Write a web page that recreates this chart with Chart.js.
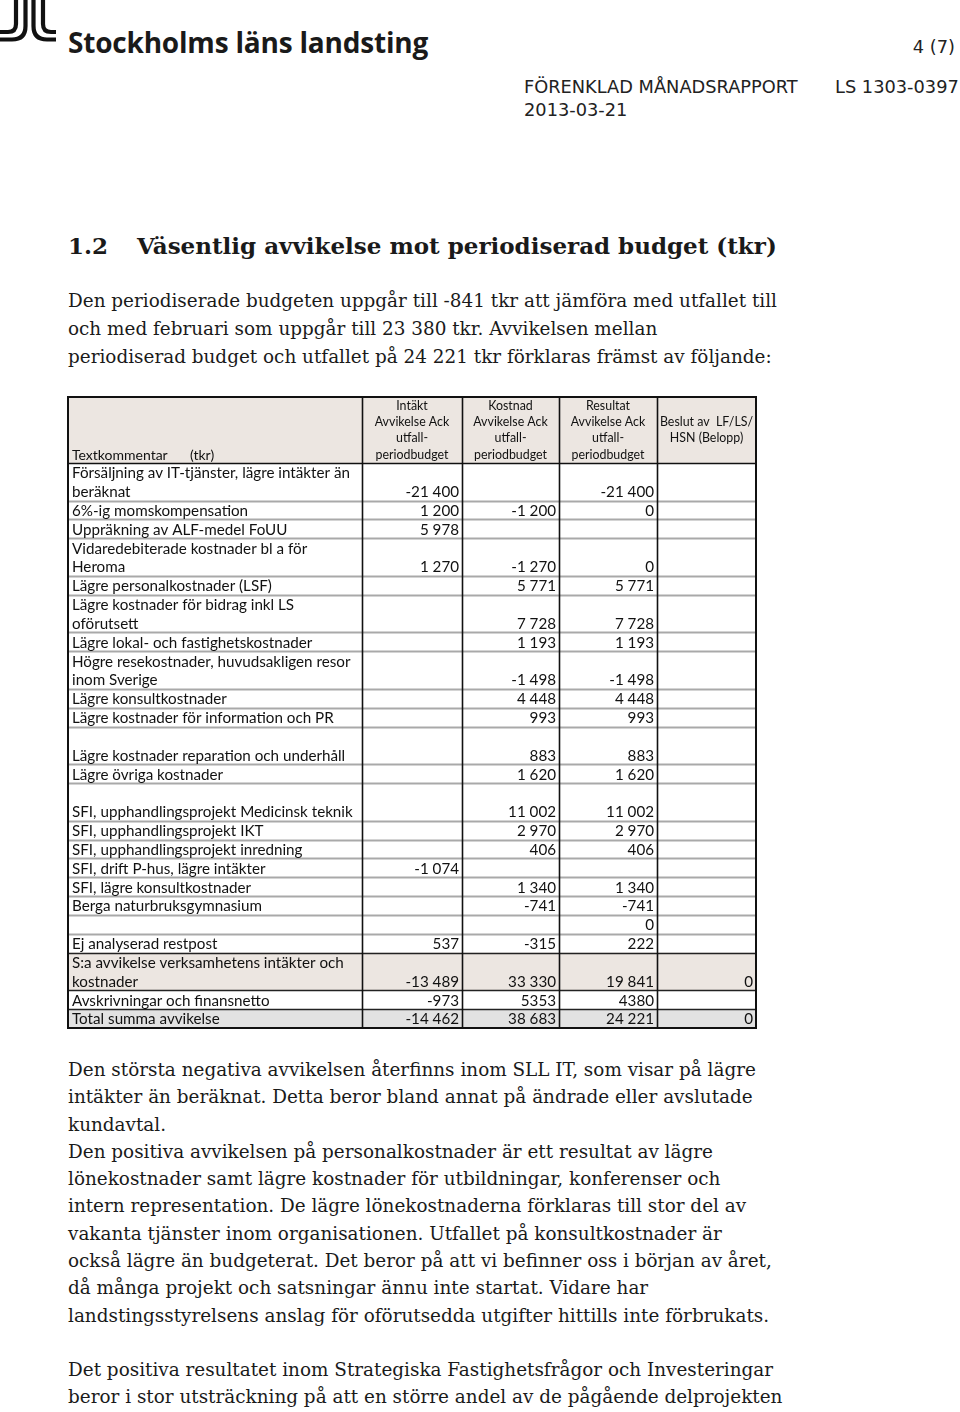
<!DOCTYPE html>
<html lang="sv">
<head>
<meta charset="utf-8">
<title>Väsentlig avvikelse mot periodiserad budget</title>
<script src="https://cdn.jsdelivr.net/npm/chart.js@4.4.0/dist/chart.umd.min.js"></script>
<style>
  html, body { margin: 0; padding: 0; background: #fff; }
  body { width: 960px; height: 1412px; position: relative; overflow: hidden; color: #111; }
  .abs { position: absolute; white-space: nowrap; }
  .logo { left: 68px; top: 23px; font-family: "Open Sans", sans-serif; font-weight: 700; font-size: 28px; line-height: 38px; color: #1a1a1a; letter-spacing: -0.2px; }
  .hdr { font-family: "DejaVu Sans", Verdana, sans-serif; font-size: 17.8px; line-height: 22px; color: #222; }
  .serif { font-family: "DejaVu Serif", Georgia, serif; font-size: 18.4px; color: #1a1a1a; }
  .title { left: 68px; top: 229px; font-weight: 700; font-size: 23px; line-height: 34px; }
  .p1 { left: 68px; top: 287px; line-height: 28px; }
  .p2 { left: 68px; top: 1056px; line-height: 27.3px; }
  .p3 { left: 68px; top: 1356px; line-height: 27.3px; }
  #tbl { position: absolute; left: 52px; top: 382px; }
</style>
</head>
<body>

<svg class="abs" style="left:0;top:0" width="62" height="50" viewBox="0 0 62 50">
  <g fill="none" stroke="#111" stroke-width="4.2">
    <path d="M16 0 V24 Q16 32 8 32 H0"/>
    <path d="M25.5 0 V26 Q25.5 39.5 12 39.5 H0"/>
    <path d="M33.5 0 V26 Q33.5 39.5 47 39.5 H56"/>
    <path d="M43 0 V24 Q43 32 51 32 H56"/>
  </g>
</svg>
<div class="abs logo">Stockholms läns landsting</div>

<div class="abs hdr" style="right:5px; top:36px;">4 (7)</div>
<div class="abs hdr" style="left:524px; top:76px;">FÖRENKLAD MÅNADSRAPPORT</div>
<div class="abs hdr" style="left:835px; top:76px;">LS 1303-0397</div>
<div class="abs hdr" style="left:524px; top:99px;">2013-03-21</div>

<div class="abs serif title">1.2<span style="position:absolute; left:69px;">Väsentlig avvikelse mot periodiserad budget (tkr)</span></div>

<div class="abs serif p1">Den periodiserade budgeten uppgår till -841 tkr att jämföra med utfallet till<br>och med februari som uppgår till 23 380 tkr. Avvikelsen mellan<br>periodiserad budget och utfallet på 24 221 tkr förklaras främst av följande:</div>

<canvas id="tbl" width="720" height="660"></canvas>

<div class="abs serif p2">Den största negativa avvikelsen återfinns inom SLL IT, som visar på lägre<br>intäkter än beräknat. Detta beror bland annat på ändrade eller avslutade<br>kundavtal.<br>Den positiva avvikelsen på personalkostnader är ett resultat av lägre<br>lönekostnader samt lägre kostnader för utbildningar, konferenser och<br>intern representation. De lägre lönekostnaderna förklaras till stor del av<br>vakanta tjänster inom organisationen. Utfallet på konsultkostnader är<br>också lägre än budgeterat. Det beror på att vi befinner oss i början av året,<br>då många projekt och satsningar ännu inte startat. Vidare har<br>landstingsstyrelsens anslag för oförutsedda utgifter hittills inte förbrukats.</div>
<div class="abs serif p3">Det positiva resultatet inom Strategiska Fastighetsfrågor och Investeringar<br>beror i stor utsträckning på att en större andel av de pågående delprojekten</div>

<script>
// rader (textkommentar), en array per rad med dess textrader
var rowLabels = [
  ['Försäljning av IT-tjänster, lägre intäkter än', 'beräknat'],
  ['6%-ig momskompensation'],
  ['Uppräkning av ALF-medel FoUU'],
  ['Vidaredebiterade kostnader bl a för', 'Heroma'],
  ['Lägre personalkostnader (LSF)'],
  ['Lägre kostnader för bidrag inkl LS', 'oförutsett'],
  ['Lägre lokal- och fastighetskostnader'],
  ['Högre resekostnader, huvudsakligen resor', 'inom Sverige'],
  ['Lägre konsultkostnader'],
  ['Lägre kostnader för information och PR'],
  ['', 'Lägre kostnader reparation och underhåll'],
  ['Lägre övriga kostnader'],
  ['', 'SFI, upphandlingsprojekt Medicinsk teknik'],
  ['SFI, upphandlingsprojekt IKT'],
  ['SFI, upphandlingsprojekt inredning'],
  ['SFI, drift P-hus, lägre intäkter'],
  ['SFI, lägre konsultkostnader'],
  ['Berga naturbruksgymnasium'],
  [''],
  ['Ej analyserad restpost'],
  ['S:a avvikelse verksamhetens intäkter och', 'kostnader'],
  ['Avskrivningar och finansnetto'],
  ['Total summa avvikelse']
];

// Avvikelse ack utfall - periodbudget (tkr)
var intakt   = [-21400, 1200, 5978, 1270, null, null, null, null, null, null, null, null, null, null, null, -1074, null, null, null, 537, -13489, -973, -14462];
var kostnad  = [null, -1200, null, -1270, 5771, 7728, 1193, -1498, 4448, 993, 883, 1620, 11002, 2970, 406, null, 1340, -741, null, -315, 33330, 5353, 38683];
var resultat = [-21400, 0, null, 0, 5771, 7728, 1193, -1498, 4448, 993, 883, 1620, 11002, 2970, 406, null, 1340, -741, 0, 222, 19841, 4380, 24221];
var beslut   = [null, null, null, null, null, null, null, null, null, null, null, null, null, null, null, null, null, null, null, null, 0, null, 0];

// rad utan tusentalsavgränsare i originalet
var plainRows = [21];

var headers = [
  ['Textkommentar', '(tkr)'],
  ['Intäkt', 'Avvikelse Ack', 'utfall-', 'periodbudget'],
  ['Kostnad', 'Avvikelse Ack', 'utfall-', 'periodbudget'],
  ['Resultat', 'Avvikelse Ack', 'utfall-', 'periodbudget'],
  ['Beslut av  LF/LS/', 'HSN (Belopp)']
];

// layout (tabellens kolumnkanter i px från vänster kant)
var colEdges = [0, 294, 394, 491, 589, 688];
var headerLines = 3.5;
var cellFont = '15.2px Lato';
var headFont = '12.4px Lato';

var lineStart = [];
var n = 0;
rowLabels.forEach(function (r) { lineStart.push(n); n += r.length; });
var totalLines = n;

function fmt(v, row) {
  if (v === null || v === undefined) return '';
  var s = String(Math.abs(v));
  if (plainRows.indexOf(row) < 0) s = s.replace(/\B(?=(\d{3})+(?!\d))/g, ' ');
  return (v < 0 ? '-' : '') + s;
}

function makeDataset(values, col) {
  var pts = [], txt = [];
  values.forEach(function (v, i) {
    if (v === null) return;
    pts.push({ x: colEdges[col + 1], y: lineStart[i] + rowLabels[i].length - 0.5 });
    txt.push(fmt(v, i));
  });
  return { data: pts, cellText: txt, pointRadius: 0, showLine: false };
}

var tablePlugin = {
  id: 'tableDraw',
  beforeDatasetsDraw: function (chart) {
    var ctx = chart.ctx, xs = chart.scales.x, ys = chart.scales.y;
    var x0 = xs.getPixelForValue(0), x1 = xs.getPixelForValue(colEdges[5]);
    var yTop = ys.getPixelForValue(-headerLines), yBot = ys.getPixelForValue(totalLines);
    ctx.save();
    // bakgrunder
    ctx.fillStyle = '#ece6e1';
    ctx.fillRect(x0, yTop, x1 - x0, ys.getPixelForValue(0) - yTop);
    var sa = 20, tot = 22;
    ctx.fillRect(x0, ys.getPixelForValue(lineStart[sa]), x1 - x0,
      ys.getPixelForValue(lineStart[sa] + 2) - ys.getPixelForValue(lineStart[sa]));
    ctx.fillStyle = '#e2e2e2';
    ctx.fillRect(x0, ys.getPixelForValue(lineStart[tot]), x1 - x0,
      ys.getPixelForValue(totalLines) - ys.getPixelForValue(lineStart[tot]));
    // horisontella linjer
    lineStart.forEach(function (ls, i) {
      if (i === 0) return;
      var y = Math.round(ys.getPixelForValue(ls)) + 0.5;
      var dark = i >= 20;
      ctx.strokeStyle = dark ? '#222' : '#a9a9a9';
      ctx.lineWidth = dark ? 1.3 : 1.8;
      ctx.beginPath(); ctx.moveTo(x0, y); ctx.lineTo(x1, y); ctx.stroke();
    });
    ctx.strokeStyle = '#111';
    ctx.lineWidth = 1.6;
    var yh = Math.round(ys.getPixelForValue(0)) + 0.5;
    ctx.beginPath(); ctx.moveTo(x0, yh); ctx.lineTo(x1, yh); ctx.stroke();
    // vertikala linjer
    for (var c = 1; c < colEdges.length - 1; c++) {
      var x = Math.round(xs.getPixelForValue(colEdges[c])) + 0.5;
      ctx.beginPath(); ctx.moveTo(x, yTop); ctx.lineTo(x, yBot); ctx.stroke();
    }
    ctx.lineWidth = 2;
    ctx.strokeRect(x0, yTop, x1 - x0, yBot - yTop);
    ctx.restore();
  },
  afterDatasetsDraw: function (chart) {
    var ctx = chart.ctx, xs = chart.scales.x, ys = chart.scales.y;
    ctx.save();
    ctx.fillStyle = '#111';
    ctx.textBaseline = 'middle';
    // rubriker
    var hy = [-3.02, -2.17, -1.32, -0.42];
    ctx.font = '14px Lato';
    ctx.textAlign = 'left';
    ctx.fillText(headers[0][0], xs.getPixelForValue(4), ys.getPixelForValue(hy[3]));
    ctx.fillText(headers[0][1], xs.getPixelForValue(122), ys.getPixelForValue(hy[3]));
    ctx.font = headFont;
    ctx.textAlign = 'center';
    for (var c = 1; c <= 3; c++) {
      var cx = xs.getPixelForValue((colEdges[c] + colEdges[c + 1]) / 2);
      headers[c].forEach(function (t, k) { ctx.fillText(t, cx, ys.getPixelForValue(hy[k])); });
    }
    var bx = xs.getPixelForValue((colEdges[4] + colEdges[5]) / 2);
    ctx.fillText(headers[4][0], bx, ys.getPixelForValue(hy[1]));
    ctx.fillText(headers[4][1], bx, ys.getPixelForValue(hy[2]));
    // textkommentarer
    ctx.font = cellFont;
    ctx.textAlign = 'left';
    rowLabels.forEach(function (r, i) {
      r.forEach(function (t, k) {
        ctx.fillText(t, xs.getPixelForValue(4), ys.getPixelForValue(lineStart[i] + k + 0.5) + 1);
      });
    });
    // belopp
    ctx.textAlign = 'right';
    chart.data.datasets.forEach(function (ds, d) {
      var meta = chart.getDatasetMeta(d);
      meta.data.forEach(function (pt, i) {
        ctx.fillText(ds.cellText[i], pt.x - 3, pt.y + 1);
      });
    });
    ctx.restore();
  }
};

new Chart(document.getElementById('tbl'), {
  type: 'scatter',
  data: {
    datasets: [makeDataset(intakt, 1), makeDataset(kostnad, 2), makeDataset(resultat, 3), makeDataset(beslut, 4)]
  },
  options: {
    responsive: false,
    animation: false,
    events: [],
    layout: { padding: { left: 16, right: 16, top: 15, bottom: 14 } },
    scales: {
      x: { type: 'linear', min: colEdges[0], max: colEdges[5], display: false },
      y: { type: 'linear', min: -headerLines, max: totalLines, reverse: true, display: false }
    },
    plugins: { legend: { display: false }, tooltip: { enabled: false } }
  },
  plugins: [tablePlugin]
});
</script>
</body>
</html>
